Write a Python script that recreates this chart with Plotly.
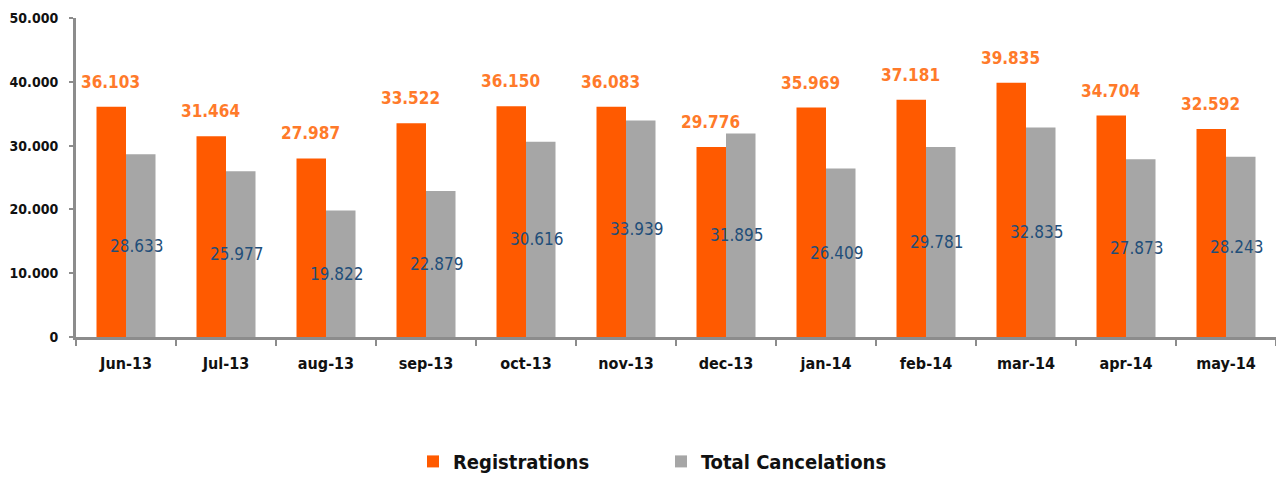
import plotly.graph_objects as go

months = ["Jun-13", "Jul-13", "aug-13", "sep-13", "oct-13", "nov-13",
          "dec-13", "jan-14", "feb-14", "mar-14", "apr-14", "may-14"]
registrations = [36103, 31464, 27987, 33522, 36150, 36083,
                 29776, 35969, 37181, 39835, 34704, 32592]
cancelations = [28633, 25977, 19822, 22879, 30616, 33939,
                31895, 26409, 29781, 32835, 27873, 28243]
ytick_vals = [0, 10000, 20000, 30000, 40000, 50000]
ytick_text = ["0", "10.000", "20.000", "30.000", "40.000", "50.000"]

ORANGE = "#FF5A00"
GRAY = "#A6A6A6"
LABEL_ORANGE = "#FF7A2A"
LABEL_BLUE = "#1F4E79"
FONT = "Liberation Sans Narrow, DejaVu Sans Condensed, Arial Narrow, sans-serif"


def fmt(v):
    return f"{v:,}".replace(",", ".")


fig = go.Figure()
fig.add_trace(go.Bar(x=months, y=registrations, name="Registrations",
                     marker=dict(color=ORANGE, line=dict(width=0))))
fig.add_trace(go.Bar(x=months, y=cancelations, name="Total Cancelations",
                     marker=dict(color=GRAY, line=dict(width=0))))

annotations = []
for m, r, c in zip(months, registrations, cancelations):
    annotations.append(dict(x=m, y=r, xref="x", yref="y", text="<b>" + fmt(r) + "</b>",
                            showarrow=False, xshift=-16, yshift=25,
                            font=dict(family=FONT, size=17, color=LABEL_ORANGE),
                            xanchor="center", yanchor="middle"))
    annotations.append(dict(x=m, y=c / 2, xref="x", yref="y", text=fmt(c),
                            showarrow=False, xshift=11, yshift=0,
                            font=dict(family=FONT, size=17, color=LABEL_BLUE),
                            xanchor="center", yanchor="middle"))

fig.update_layout(
    width=1276, height=469,
    margin=dict(l=68, r=8, t=10, b=140, autoexpand=False),
    paper_bgcolor="white", plot_bgcolor="white",
    barmode="group", bargap=0.41, bargroupgap=0,
    showlegend=True,
    legend=dict(orientation="h", x=0.4875, xanchor="center", y=-0.39, yanchor="middle",
                font=dict(family=FONT, size=20, color="#111111", weight="bold"),
                entrywidth=203, traceorder="normal"),
    annotations=annotations,
    font=dict(family=FONT),
)
fig.update_xaxes(showline=True, linecolor="#8C8C8C", linewidth=3,
                 ticks="outside", tickson="boundaries", ticklen=6,
                 tickcolor="#8C8C8C", tickwidth=2, ticklabelstandoff=10,
                 tickfont=dict(family=FONT, size=16, color="#111111", weight="bold"),
                 showgrid=False, automargin=False)
fig.update_yaxes(range=[0, 50000], tickvals=ytick_vals, ticktext=ytick_text,
                 showline=True, linecolor="#8C8C8C", linewidth=3,
                 ticks="outside", ticklen=4, tickcolor="#8C8C8C", tickwidth=2,
                 ticklabelstandoff=8,
                 tickfont=dict(family=FONT, size=14, color="#111111", weight="bold"),
                 showgrid=False, zeroline=False, automargin=False)

fig.write_html("out.html")
